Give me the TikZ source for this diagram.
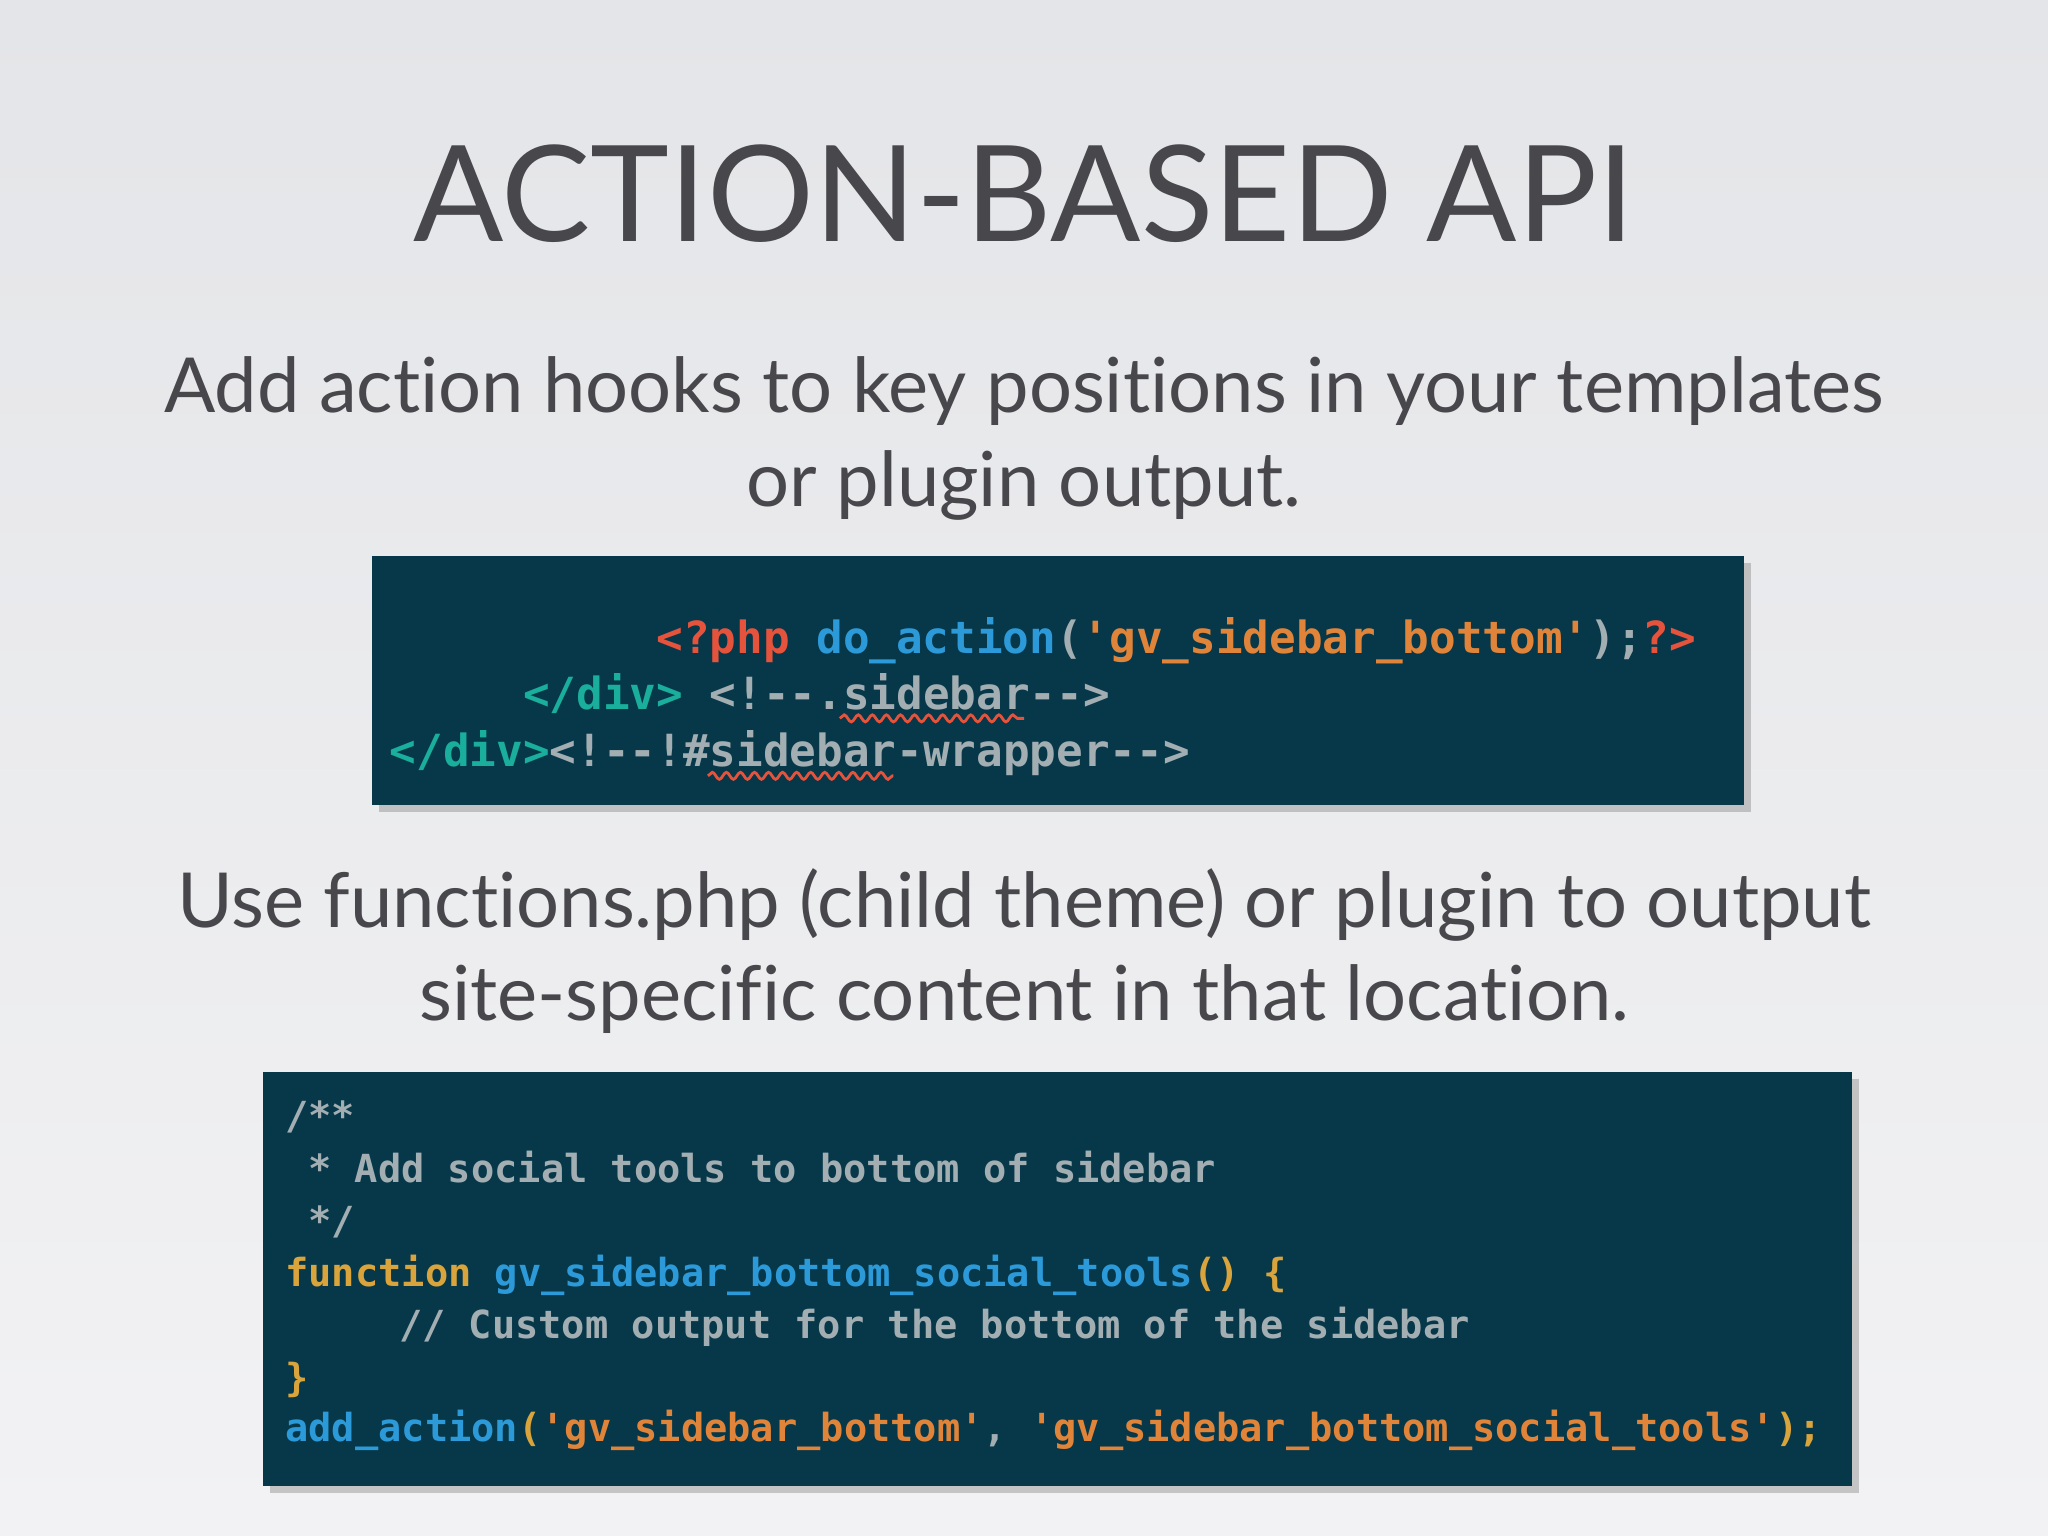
\documentclass[tikz,border=0pt]{standalone}
\usepackage{fontspec}
\usetikzlibrary{shadows,decorations.pathmorphing}
\setmainfont[Ligatures=NoCommon]{Lato}
\newfontfamily\codefont{DejaVu Sans Mono}
\definecolor{bgA}{HTML}{E4E5E8}
\definecolor{bgB}{HTML}{F2F2F4}
\definecolor{txt}{HTML}{48484C}
\definecolor{codebg}{HTML}{06384A}
\definecolor{cred}{HTML}{E5533C}
\definecolor{cblue}{HTML}{2C9AD8}
\definecolor{corange}{HTML}{E0843A}
\definecolor{cgreen}{HTML}{1AAE9C}
\definecolor{cgray}{HTML}{A3AEB2}
\definecolor{cyel}{HTML}{D9A43C}
\tikzset{
  codebox/.style={fill=codebg,draw=none,drop shadow={shadow xshift=2pt,shadow yshift=-2pt,opacity=0.4}},
  cA/.style={anchor=base west,inner sep=0,font=\codefont\bfseries\fontsize{12.6}{14}\selectfont,text=cgray},
  cB/.style={anchor=base west,inner sep=0,font=\codefont\bfseries\fontsize{11}{13}\selectfont,text=cgray},
  body/.style={anchor=base,inner sep=0,text=txt,font=\fontsize{21.6}{26}\selectfont},
}
\begin{document}
\begin{tikzpicture}[x=0.01306cm,y=-0.01306cm]
\shade[top color=bgA,bottom color=bgB] (0,0) rectangle (1568,1176);
\useasboundingbox (0,0) rectangle (1568,1176);
\node[anchor=base,inner sep=0,text=txt,font=\fontsize{38}{42}\selectfont] (title) at (784,185) {ACTION-BASED API};
\node[body] (s1) at (784,316) {Add action hooks to key positions in your templates};
\node[body] (s2) at (784,388) {or plugin output.};
\node[body] (s3) at (784,710) {Use functions.php (child theme) or plugin to output};
\node[body] (s4) at (784,781) {site-specific content in that location.};
\path[codebox] (285,426) rectangle (1335,616);
\node[cA] (a1) at (502,500) {\textcolor{cred}{<?php} \textcolor{cblue}{do\_action}(\textcolor{corange}{'gv\_sidebar\_bottom'});\textcolor{cred}{?>}};
\node[cA] (a2) at (400,543) {\textcolor{cgreen}{</div>} <!--.sidebar-->};
\node[cA] (a3) at (298,587) {\textcolor{cgreen}{</div>}<!--!\#sidebar-wrapper-->};
\draw[cred,thick,decorate,decoration={snake,amplitude=1pt,segment length=4pt}] (643,550) -- (784,550);
\draw[cred,thick,decorate,decoration={snake,amplitude=1pt,segment length=4pt}] (542,594) -- (684,594);
\path[codebox] (201,821) rectangle (1418,1138);
\node[cB] (b1) at (218,865) {/**};
\node[cB] (b2) at (235.5,905) {* Add social tools to bottom of sidebar};
\node[cB] (b3) at (235.5,945) {*/};
\node[cB] (b4) at (218,985) {\textcolor{cyel}{function} \textcolor{cblue}{gv\_sidebar\_bottom\_social\_tools}\textcolor{cyel}{() \{}};
\node[cB] (b5) at (305,1025) {// Custom output for the bottom of the sidebar};
\node[cB] (b6) at (218,1065) {\textcolor{cyel}{\}}};
\node[cB] (b7) at (218,1104) {\textcolor{cblue}{add\_action}\textcolor{cyel}{(}\textcolor{corange}{'gv\_sidebar\_bottom'}, \textcolor{corange}{'gv\_sidebar\_bottom\_social\_tools'}\textcolor{cyel}{);}};
\end{tikzpicture}
\end{document}
